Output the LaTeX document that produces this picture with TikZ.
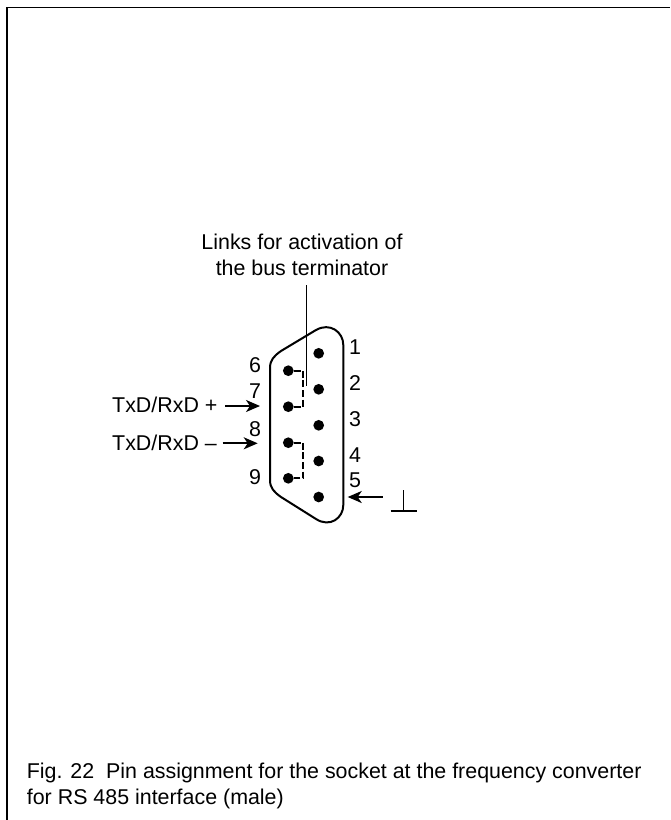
\documentclass[tikz,border=0pt]{standalone}
\usepackage{fontspec}
\setmainfont{Liberation Sans}
\usetikzlibrary{arrows.meta}
\tikzset{
    pin/.style={circle, fill=black, inner sep=0pt, minimum size=10.7pt},
    lab/.style={inner sep=0pt, font=\fontsize{21.4}{26}\selectfont},
    link/.style={dash pattern=on 7pt off 2.6pt, line width=1.9pt},
    feed/.style={line width=2pt, -{Stealth[length=14pt, width=12pt, inset=4pt]}}
}
\begin{document}
\begin{tikzpicture}[x=1pt, y=-1pt]
    \useasboundingbox (0, 0) rectangle (670, 820);
    % Frame
    \draw [line width=1.4pt] (6.8, 820) -- (6.8, 7.3) -- (670, 7.3);
    % Shell
    \draw [line width=2pt] (270, 368) .. controls (270, 360) and (274, 356) .. (281, 351)
        -- (316, 330) .. controls (330, 322) and (343.3, 332) .. (343.3, 345)
        -- (343.3, 505) .. controls (343.3, 518) and (330, 528) .. (316, 519)
        -- (281, 497) .. controls (274, 492) and (270, 488) .. (270, 480) -- cycle;
    % Pins
    \foreach \n/\y in {1/353.3, 2/389.3, 3/425.3, 4/461, 5/497}
        \node [pin] (pin\n) at (318.7, \y) {};
    \foreach \n/\y in {6/370.7, 7/406.7, 8/442.7, 9/478.3}
        \node [pin] (pin\n) at (288.3, \y) {};
    % Links
    \draw [link] (pin6) -| (303.3, 406.7) -- (pin7);
    \draw [link] (pin8) -| (303.3, 478.3) -- (pin9);
    % Numbers
    \foreach \n/\x/\y in {1/355/346.7, 2/355/382.7, 3/355/419, 4/355/455, 5/355/480.7,
                          6/255/365, 7/255/390.7, 8/255/429, 9/255/476.7}
        \node [lab] (num\n) at (\x, \y) {\n};
    % Labels
    \node [lab, align=center] (title) at (302, 255) {Links for activation of\\the bus terminator};
    \node [lab, anchor=west] (txp) at (112, 405) {TxD/RxD +};
    \node [lab, anchor=west] (txm) at (112, 442.7) {TxD/RxD --};
    \node [lab, align=left, anchor=west] (caption) at (26.7, 786)
        {Fig. 22\ \ Pin assignment for the socket at the frequency converter\\for RS 485 interface (male)};
    % Leader
    \coordinate (leadertop) at (306.7, 285);
    \coordinate (leaderend) at (306.7, 386);
    \draw [line width=1.1pt] (leadertop) -- (leaderend);
    % Arrows
    \coordinate (from7) at (225, 406);
    \coordinate (in7) at (260, 406);
    \coordinate (from8) at (222.7, 443.3);
    \coordinate (in8) at (257.7, 443.3);
    \coordinate (from5) at (382.7, 497);
    \coordinate (in5) at (347.7, 497);
    \draw [feed] (from7) -- (in7);
    \draw [feed] (from8) -- (in8);
    \draw [feed] (from5) -- (in5);
    % Ground symbol
    \draw [line width=1.4pt] (403.3, 490) -- (403.3, 511);
    \draw [line width=1.4pt] (390.7, 511) -- (416.7, 511);
\end{tikzpicture}
\end{document}
